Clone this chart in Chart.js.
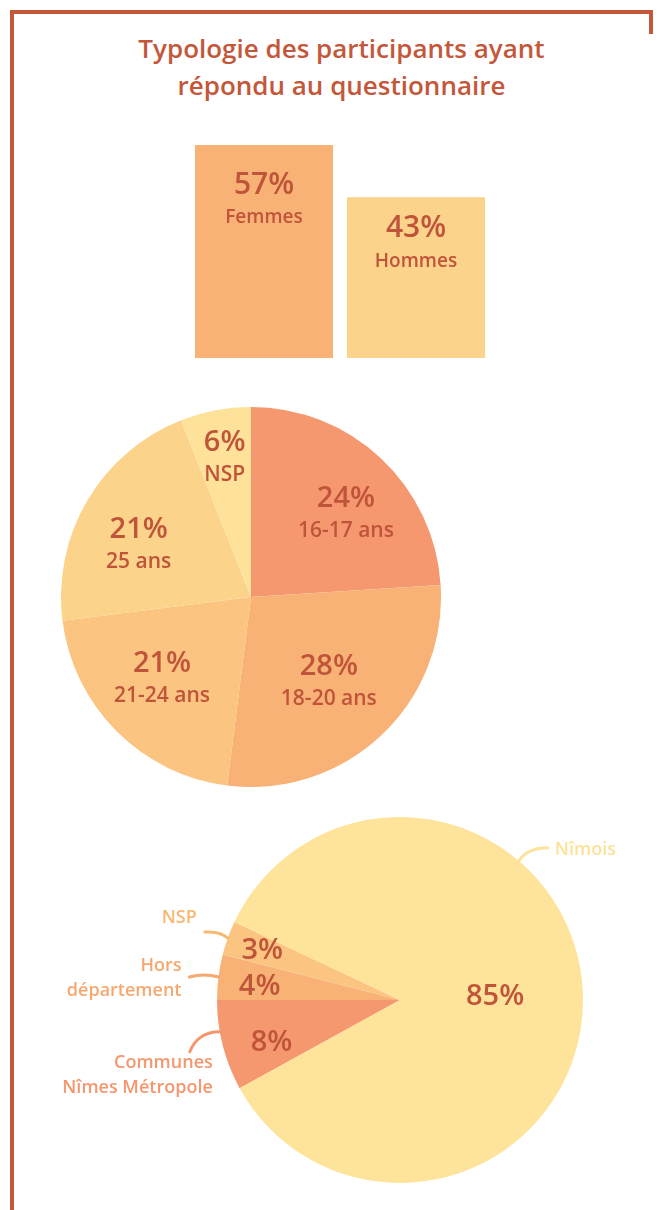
<!DOCTYPE html>
<html lang="fr">
<head>
<meta charset="utf-8">
<title>Typologie des participants</title>
<script src="https://cdn.jsdelivr.net/npm/chart.js@4.4.1/dist/chart.umd.min.js"></script>
<style>
    body {
        margin: 0;
        width: 663px;
        height: 1210px;
        position: relative;
        overflow: hidden;
        background: #fff;
        font-family: "Open Sans", sans-serif;
    }
    .frame { position: absolute; background: #c4573a; }
    .title {
        position: absolute;
        left: 0;
        width: 683px;
        text-align: center;
        color: #c4573a;
        font-size: 26px;
        font-weight: 600;
        line-height: 36px;
    }
    .box { position: absolute; }
</style>
</head>
<body>
<div class="frame" style="left:10px; top:10px; width:643px; height:4px;"></div>
<div class="frame" style="left:10px; top:10px; width:4px; height:1200px;"></div>
<div class="frame" style="left:649px; top:10px; width:4px; height:24px;"></div>

<div class="title" style="top:30px;">Typologie des participants ayant</div>
<div class="title" style="top:67px;">répondu au questionnaire</div>

<div class="box" style="left:188px; top:145px;"><canvas id="genderChart" width="304" height="213"></canvas></div>
<div class="box" style="left:61px; top:407px;"><canvas id="ageChart" width="380" height="380"></canvas></div>
<div class="box" style="left:0; top:800px;"><canvas id="originChart" width="663" height="400"></canvas></div>

<script>
// Données
const genderLabels = ['Femmes', 'Hommes'];
const genderValues = [57, 43];

const ageLabels = ['16-17 ans', '18-20 ans', '21-24 ans', '25 ans', 'NSP'];
const ageValues = [24, 28, 21, 21, 6];

const originLabels = ['Communes Nîmes Métropole', 'Hors département', 'NSP', 'Nîmois'];
const originLines = [['Communes', 'Nîmes Métropole'], ['Hors', 'département'], ['NSP'], ['Nîmois']];
const originValues = [8, 4, 3, 85];

const DARK = '#c0543a';
const FONT = '"Open Sans", sans-serif';

Chart.defaults.animation = false;
Chart.defaults.plugins.legend.display = false;
Chart.defaults.plugins.tooltip.enabled = false;

function drawText(ctx, text, x, y, size, color, align) {
    ctx.save();
    ctx.font = '600 ' + size + 'px ' + FONT;
    ctx.fillStyle = color;
    ctx.textAlign = align || 'center';
    ctx.textBaseline = 'middle';
    ctx.fillText(text, x, y);
    ctx.restore();
}

// Étiquettes dans les barres
const barLabels = {
    id: 'barLabels',
    afterDatasetsDraw(chart, args, opts) {
        const meta = chart.getDatasetMeta(0);
        meta.data.forEach((bar, i) => {
            const off = opts.offsets[i];
            drawText(chart.ctx, genderValues[i] + '%', bar.x, bar.y + off, 30, DARK);
            drawText(chart.ctx, genderLabels[i], bar.x, bar.y + off + 33, 19, DARK);
        });
    }
};

// Étiquettes dans les parts
const sliceLabels = {
    id: 'sliceLabels',
    afterDatasetsDraw(chart, args, opts) {
        const meta = chart.getDatasetMeta(0);
        const values = chart.data.datasets[0].data;
        meta.data.forEach((arc, i) => {
            const p = arc.getProps(['x', 'y', 'startAngle', 'endAngle', 'outerRadius'], true);
            const shift = opts.shift ? opts.shift[i] * Math.PI / 180 : 0;
            const mid = (p.startAngle + p.endAngle) / 2 + shift;
            const r = p.outerRadius * opts.radius[i];
            const x = p.x + r * Math.cos(mid);
            const y = p.y + r * Math.sin(mid);
            if (opts.names) {
                drawText(chart.ctx, values[i] + '%', x, y - 16, 29, DARK);
                drawText(chart.ctx, opts.names[i], x, y + 16, 21, DARK);
            } else {
                drawText(chart.ctx, values[i] + '%', x, y, 29, DARK);
            }
        });
    }
};

// Légendes extérieures avec traits
const leaders = {
    id: 'leaders',
    afterDatasetsDraw(chart, args, opts) {
        const ctx = chart.ctx;
        const meta = chart.getDatasetMeta(0);
        opts.items.forEach((it, i) => {
            const p = meta.data[i].getProps(['x', 'y', 'startAngle', 'endAngle', 'outerRadius'], true);
            const a = it.angle !== undefined ? (it.angle - 90) * Math.PI / 180 : (p.startAngle + p.endAngle) / 2;
            const sx = p.x + p.outerRadius * Math.cos(a);
            const sy = p.y + p.outerRadius * Math.sin(a);
            ctx.save();
            ctx.strokeStyle = it.color;
            ctx.lineWidth = 3;
            ctx.lineCap = 'round';
            ctx.beginPath();
            ctx.moveTo(sx, sy);
            ctx.quadraticCurveTo(sx + it.ctrl[0], sy + it.ctrl[1], sx + it.end[0], sy + it.end[1]);
            ctx.stroke();
            ctx.restore();
            originLines[i].forEach((line, k) => {
                drawText(ctx, line, sx + it.text[0], sy + it.text[1] + k * 25, 18, it.color, it.align);
            });
        });
    }
};

new Chart(document.getElementById('genderChart'), {
    type: 'bar',
    data: {
        labels: genderLabels,
        datasets: [{
            data: genderValues,
            backgroundColor: ['#f8b276', '#fcd38b'],
            barPercentage: 138 / 152,
            categoryPercentage: 1
        }]
    },
    options: {
        responsive: false,
        layout: { padding: 0 },
        scales: {
            x: { display: false },
            y: { display: false, min: 0, max: Math.max(...genderValues) }
        },
        plugins: {
            barLabels: { offsets: [40, 31] }
        }
    },
    plugins: [barLabels]
});

new Chart(document.getElementById('ageChart'), {
    type: 'pie',
    data: {
        labels: ageLabels,
        datasets: [{
            data: ageValues,
            backgroundColor: ['#f5986f', '#f8b276', '#fbc480', '#fcd38b', '#fee29a'],
            borderWidth: 0
        }]
    },
    options: {
        responsive: false,
        layout: { padding: 0 },
        plugins: {
            sliceLabels: {
                radius: [0.66, 0.61, 0.64, 0.65, 0.74],
                shift: [6, 1, 2, -6, 0],
                names: ageLabels
            }
        }
    },
    plugins: [sliceLabels]
});

new Chart(document.getElementById('originChart'), {
    type: 'pie',
    data: {
        labels: originLabels,
        datasets: [{
            data: originValues,
            backgroundColor: ['#f5986f', '#f8b276', '#fbc480', '#fee39b'],
            borderWidth: 0
        }]
    },
    options: {
        responsive: false,
        rotation: 241.2,
        layout: { padding: { left: 217, right: 80, top: 17, bottom: 17 } },
        plugins: {
            sliceLabels: { radius: [0.74, 0.77, 0.80, 0.52], shift: [-4, -2, 0, 0] },
            leaders: {
                items: [
                    { color: '#f5966e', angle: 260, ctrl: [-22, 0], end: [-30, 20], text: [-7, 31], align: 'right' },
                    { color: '#f6a86e', ctrl: [-14, -4], end: [-29, 0], text: [-37, -11], align: 'right' },
                    { color: '#f9b872', ctrl: [-8, -7], end: [-23, -6], text: [-31, -20], align: 'right' },
                    { color: '#fde29a', angle: 40.5, ctrl: [9, -13], end: [29, -13], text: [36, -11], align: 'left' }
                ]
            }
        }
    },
    plugins: [sliceLabels, leaders]
});
</script>
</body>
</html>
